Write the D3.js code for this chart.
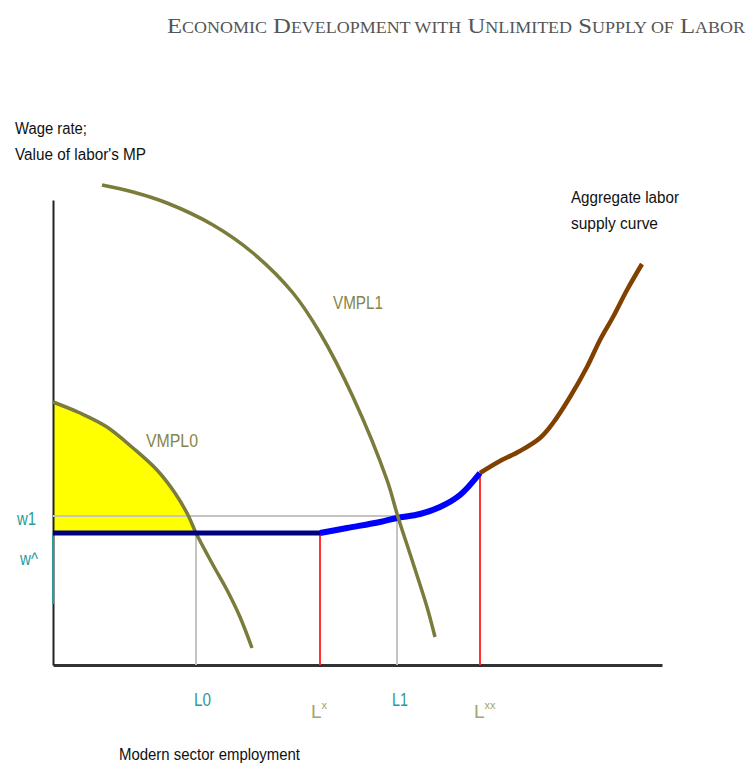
<!DOCTYPE html>
<html><head><meta charset="utf-8">
<script src="https://cdn.jsdelivr.net/npm/d3@7"></script>
<style>body{margin:0;background:#fff}svg{display:block}</style>
</head><body>
<svg id="c" width="749" height="764"></svg>
<script>
// ---- data (abstract units) ----
const titleWords = ["Economic","Development","with","Unlimited","Supply","of","Labor"];
const smallWords = ["with","of"];
const vmpl0 = [[0,263],[27,252],[54,238],[80,217],[104,195],[122,172],[135,150],[143,132],[160,100],[174,75],[187,48],[199,17]];
const vmpl1 = [[49,480],[80,473],[114,462],[160,440],[200,412],[240,372],[267,332],[300,268],[334,185],[345,148],[360,102],[374,58],[382,28]];
const flatSupply = [[0,132],[267,132]];
const risingSupply = [[267,132],[294,137],[327,143],[344,147],[367,151],[387,158],[407,170],[427,192]];
const steepSupply = [[427,192],[447,204],[467,214],[487,227],[500,242],[517,268],[534,298],[547,325],[560,348],[574,375],[589,401]];
const wageLevels = {wHat:132, w1:149};
const empLevels = {L0:143, Lstar:267, L1:344, Lss:427};
const tealAxisLow = 61;

const svg = d3.select("#c");
const x = d3.scaleLinear().domain([0,609]).range([53,662]);
const y = d3.scaleLinear().domain([0,465]).range([665,200]);

// yellow surplus area
const area = d3.area().x(d=>x(d[0])).y0(y(wageLevels.wHat)).y1(d=>y(d[1])).curve(d3.curveCatmullRom);
svg.append("path").datum(vmpl0.filter(d=>d[0]<=empLevels.L0))
  .attr("d",area).attr("fill","#ffff00");

// axes
const gx = svg.append("g").attr("transform",`translate(0,${y(0)})`)
  .call(d3.axisBottom(x).tickValues([]).tickSizeOuter(0));
gx.select(".domain").attr("stroke","#333").attr("stroke-width",3);
const gy = svg.append("g").attr("transform",`translate(${x(0)},0)`)
  .call(d3.axisLeft(y).tickValues([]).tickSizeOuter(0));
gy.select(".domain").attr("stroke","#222").attr("stroke-width",2);
svg.append("line").attr("x1",x(0)).attr("x2",x(0)).attr("y1",y(wageLevels.wHat)).attr("y2",y(tealAxisLow))
  .attr("stroke","#2a9a9a").attr("stroke-width",2);

// guide lines
const gray="#c4c4c4";
svg.append("line").attr("x1",x(0)).attr("x2",x(empLevels.L1)).attr("y1",y(wageLevels.w1)).attr("y2",y(wageLevels.w1)).attr("stroke",gray).attr("stroke-width",2);
svg.append("line").attr("x1",x(empLevels.L0)).attr("x2",x(empLevels.L0)).attr("y1",y(wageLevels.wHat)).attr("y2",y(0)).attr("stroke",gray).attr("stroke-width",2);
svg.append("line").attr("x1",x(empLevels.L1)).attr("x2",x(empLevels.L1)).attr("y1",y(wageLevels.w1)).attr("y2",y(0)).attr("stroke",gray).attr("stroke-width",2);
svg.append("line").attr("x1",x(empLevels.Lstar)).attr("x2",x(empLevels.Lstar)).attr("y1",y(wageLevels.wHat)).attr("y2",y(0)).attr("stroke","#ff3333").attr("stroke-width",2);
svg.append("line").attr("x1",x(empLevels.Lss)).attr("x2",x(empLevels.Lss)).attr("y1",y(192)).attr("y2",y(0)).attr("stroke","#ff3333").attr("stroke-width",2);

const line = d3.line().x(d=>x(d[0])).y(d=>y(d[1])).curve(d3.curveCatmullRom);
// curves
svg.append("path").datum(vmpl0).attr("d",line).attr("fill","none").attr("stroke","#7b7b3c").attr("stroke-width",3.5);
svg.append("path").datum(flatSupply).attr("d",line).attr("fill","none").attr("stroke","#000080").attr("stroke-width",5);
svg.append("path").datum(risingSupply).attr("d",line).attr("fill","none").attr("stroke","#0000ff").attr("stroke-width",6);
svg.append("path").datum(steepSupply).attr("d",line).attr("fill","none").attr("stroke","#804000").attr("stroke-width",4.5);
svg.append("path").datum(vmpl1).attr("d",line).attr("fill","none").attr("stroke","#7b7b3c").attr("stroke-width",3.5);

// text helpers
function txt(s,px,py,opts){
  const t=svg.append("text").attr("x",px).attr("y",py).text(s)
    .attr("font-family","'Liberation Sans', Arial, sans-serif")
    .attr("font-size",opts.size||14).attr("fill",opts.fill||"#111");
  if(opts.len) t.attr("textLength",opts.len).attr("lengthAdjust","spacingAndGlyphs");
  return t;
}
// title in small caps
const title = svg.append("text").attr("x",167).attr("y",33)
  .attr("font-family","'Liberation Serif','Times New Roman',serif").attr("fill","#555")
  .attr("textLength",578).attr("lengthAdjust","spacingAndGlyphs");
titleWords.forEach((w,i)=>{
  if(smallWords.includes(w)){
    title.append("tspan").attr("font-size",16).text((i?" ":"")+w.toUpperCase());
  } else {
    title.append("tspan").attr("font-size",22).text((i?" ":"")+w[0].toUpperCase());
    title.append("tspan").attr("font-size",16).text(w.slice(1).toUpperCase());
  }
});

txt("Wage rate;",15,134,{size:16,len:72});
txt("Value of labor's MP",15,160,{size:16,len:131});
txt("Aggregate labor",571,203,{size:16,len:108});
txt("supply curve",571,229,{size:16,len:87});
txt("VMPL1",333,309,{size:19,len:50,fill:"#85854a"});
txt("VMPL0",146,447,{size:19,len:52,fill:"#85854a"});
txt("w1",17,525,{size:19,len:19,fill:"#2a9a9a"});
txt("w^",20,565,{size:19,len:18,fill:"#2a9a9a"});
txt("L0",194,706,{size:19,len:17,fill:"#2a9a9a"});
txt("L1",392,706,{size:19,len:16,fill:"#2a9a9a"});
const l1=txt("L",311,718,{size:19,fill:"#a5a56e"});
l1.append("tspan").attr("dy",-9).attr("font-size",11).text("x");
const l2=txt("L",474,718,{size:19,fill:"#a5a56e"});
l2.append("tspan").attr("dy",-9).attr("font-size",11).text("xx");
txt("Modern sector employment",119,760,{size:16,len:181});
</script>
</body></html>
